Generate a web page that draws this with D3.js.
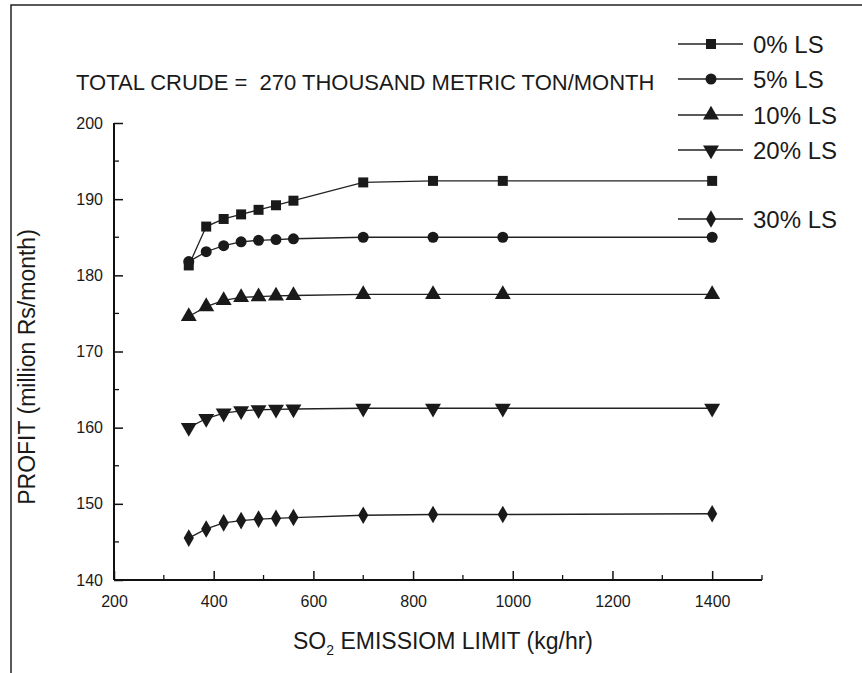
<!DOCTYPE html>
<html><head><meta charset="utf-8">
<script src="https://cdn.jsdelivr.net/npm/d3@7/dist/d3.min.js"></script>
<style>body{margin:0;background:#fff}svg{display:block}text{font-family:"Liberation Sans",Arial,sans-serif;fill:#1a1a1a}</style>
</head><body><svg id="c" width="862" height="673"></svg>
<script>
const emission = [350, 385, 420, 455, 490, 525, 560, 700, 840, 980, 1400];
const seriesNames = ["0% LS", "5% LS", "10% LS", "20% LS", "30% LS"];
const ls0  = [181.3, 186.4, 187.4, 188.0, 188.6, 189.2, 189.8, 192.2, 192.4, 192.4, 192.4];
const ls5  = [181.8, 183.1, 183.9, 184.4, 184.6, 184.7, 184.8, 185.0, 185.0, 185.0, 185.0];
const ls10 = [174.6, 175.9, 176.7, 177.1, 177.2, 177.3, 177.35, 177.5, 177.5, 177.5, 177.5];
const ls20 = [160.0, 161.2, 161.9, 162.2, 162.35, 162.4, 162.45, 162.55, 162.55, 162.55, 162.55];
const ls30 = [145.5, 146.7, 147.5, 147.8, 148.0, 148.1, 148.2, 148.5, 148.6, 148.6, 148.7];
const xTicks = [200, 400, 600, 800, 1000, 1200, 1400];
const yTicks = [140, 150, 160, 170, 180, 190, 200];
const titleText = "TOTAL CRUDE =  270 THOUSAND METRIC TON/MONTH";

const seriesValues = [ls0, ls5, ls10, ls20, ls30];
const symbols = [d3.symbolSquare, d3.symbolCircle, d3.symbolTriangle, "down", d3.symbolDiamond];

const svg = d3.select("#c");
const x = d3.scaleLinear().domain([200, 1500]).range([114, 762]);
const y = d3.scaleLinear().domain([140, 200]).range([580, 123]);

// frame
svg.append("path").attr("d", "M11,673V5H862").attr("fill", "none").attr("stroke", "#222").attr("stroke-width", 1.5);

// axes
const xAxis = d3.axisBottom(x).tickValues(xTicks).tickSize(-9).tickPadding(16).tickFormat(d3.format("d"));
const gx = svg.append("g").attr("transform", "translate(0,580)").call(xAxis);
const xMinor = d3.range(300, 1500, 200);
gx.selectAll(".minor").data(xMinor).enter().append("line").attr("x1", d => x(d)).attr("x2", d => x(d)).attr("y1", 0).attr("y2", -5).attr("stroke", "#111").attr("stroke-width", 1.3);
gx.append("line").attr("x1", x(1500)).attr("x2", x(1500)).attr("y1", 0).attr("y2", -5).attr("stroke", "#111").attr("stroke-width", 1.3);

const yAxis = d3.axisLeft(y).tickValues(yTicks).tickSize(-9).tickPadding(11);
const gy = svg.append("g").attr("transform", "translate(114,0)").call(yAxis);
const yMinor = d3.range(145, 200, 10);
gy.selectAll(".minor").data(yMinor).enter().append("line").attr("x1", 0).attr("x2", 5).attr("y1", d => y(d)).attr("y2", d => y(d)).attr("stroke", "#111").attr("stroke-width", 1.3);

[gx, gy].forEach(g => {
  g.select(".domain").attr("stroke", "#111").attr("stroke-width", 2);
  g.selectAll(".tick line").attr("stroke", "#111").attr("stroke-width", 1.5);
  g.selectAll(".tick text").attr("font-size", 16).attr("fill", "#1a1a1a").attr("font-family", '"Liberation Sans",Arial,sans-serif');
});
gx.select(".domain").attr("d", `M${x(200)},0H${x(1500)}`);
gy.select(".domain").attr("d", `M0,${y(140)}V${y(200)}`);

function symPath(s, size) {
  if (s === "down") return d3.symbol(d3.symbolTriangle, size)();
  return d3.symbol(s, size)();
}
const sizes = [100, 95, 110, 110, 90];

// lines and markers
const line = d3.line().x((d, i) => x(emission[i])).y(d => y(d));
seriesValues.forEach((vals, si) => {
  svg.append("path").attr("d", line(vals)).attr("fill", "none").attr("stroke", "#222").attr("stroke-width", 1.3);
  svg.append("g").selectAll("path").data(vals).enter().append("path")
    .attr("d", symPath(symbols[si], sizes[si]))
    .attr("transform", (d, i) => `translate(${x(emission[i])},${y(d)})` + (symbols[si] === "down" ? " rotate(180)" : ""))
    .attr("fill", "#1a1a1a");
});

// title
svg.append("text").attr("x", 76).attr("y", 90).attr("font-size", 22).style("white-space", "pre").text(titleText);

// legend
const legY = [44, 79, 115, 150, 219];
seriesNames.forEach((n, i) => {
  const g = svg.append("g").attr("transform", `translate(0,${legY[i]})`);
  g.append("line").attr("x1", 678).attr("x2", 743).attr("y1", 0).attr("y2", 0).attr("stroke", "#222").attr("stroke-width", 1.3);
  g.append("path").attr("d", symPath(symbols[i], sizes[i])).attr("transform", `translate(711,0)` + (symbols[i] === "down" ? " rotate(180)" : "")).attr("fill", "#1a1a1a");
  g.append("text").attr("x", 753).attr("y", 8.5).attr("font-size", 24).text(n);
});

// axis labels
const xl = svg.append("text").attr("x", 443).attr("y", 649).attr("text-anchor", "middle").attr("font-size", 23);
xl.append("tspan").text("SO");
xl.append("tspan").attr("font-size", 14).attr("dy", 6).text("2");
xl.append("tspan").attr("dy", -6).text(" EMISSIOM LIMIT (kg/hr)");

svg.append("text").attr("transform", "translate(35,367) rotate(-90)").attr("text-anchor", "middle").attr("font-size", 23).text("PROFIT (million Rs/month)");
</script></body></html>
